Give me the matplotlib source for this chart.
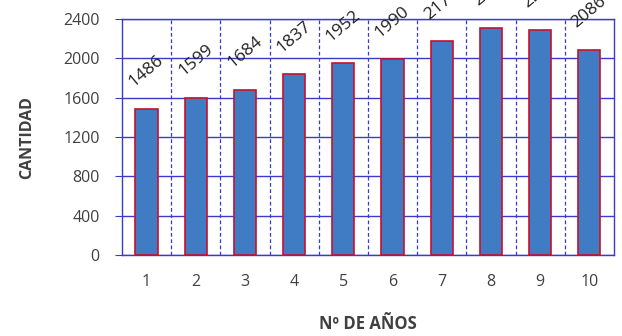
import numpy as np
import matplotlib.pyplot as plt

years = [1, 2, 3, 4, 5, 6, 7, 8, 9, 10]
cantidad = [1486, 1599, 1684, 1837, 1952, 1990, 2174, 2310, 2290, 2086]
yticks = [0, 400, 800, 1200, 1600, 2000, 2400]

grid_blue = "#3a3acc"
bar_blue = "#3f7cc4"
edge_red = "#c8102e"
txt = "#404040"

plt.rcParams['font.family'] = ['Open Sans', 'DejaVu Sans']

fig = plt.figure(figsize=(6.22, 3.36), dpi=100)
ax = fig.add_axes([0.196, 0.241, 0.791, 0.702])

x = np.arange(len(years))
ax.bar(x, cantidad, width=0.45, color=bar_blue, edgecolor=edge_red, linewidth=1.2, zorder=3)

# rotated value labels above each bar (top ones get cut by the figure edge, as in the original)
for xi, v in zip(x, cantidad):
    ax.annotate(str(v), (xi, v), xytext=(0, 27), textcoords="offset points",
                ha="center", va="center", rotation=40, fontsize=12.5, color="#202020",
                annotation_clip=False)

ax.set_xlim(-0.5, len(years) - 0.5)
ax.set_ylim(0, 2400)
ax.set_yticks(yticks)
ax.set_xticks(x)
ax.set_xticklabels([str(y) for y in years])

for yt in yticks:
    ax.axhline(yt, color=grid_blue, linewidth=1.0, zorder=1)
for b in np.arange(0.5, len(years) - 0.5, 1):
    ax.axvline(b, color=grid_blue, linewidth=0.9, linestyle=(0, (3, 2)), zorder=1)

for s in ax.spines.values():
    s.set_color(grid_blue)
    s.set_linewidth(1.0)

ax.tick_params(axis="y", length=5, color=grid_blue, labelsize=11.5, labelcolor=txt, pad=11)
ax.tick_params(axis="x", length=0, labelsize=11.5, labelcolor=txt, pad=14)

ax.set_ylabel("CANTIDAD", fontsize=11.5, fontweight="bold", color=txt, labelpad=20)
ax.set_xlabel("Nº DE AÑOS", fontsize=12, fontweight="bold", color=txt, labelpad=18)

fig.savefig("out.png", dpi=100)
